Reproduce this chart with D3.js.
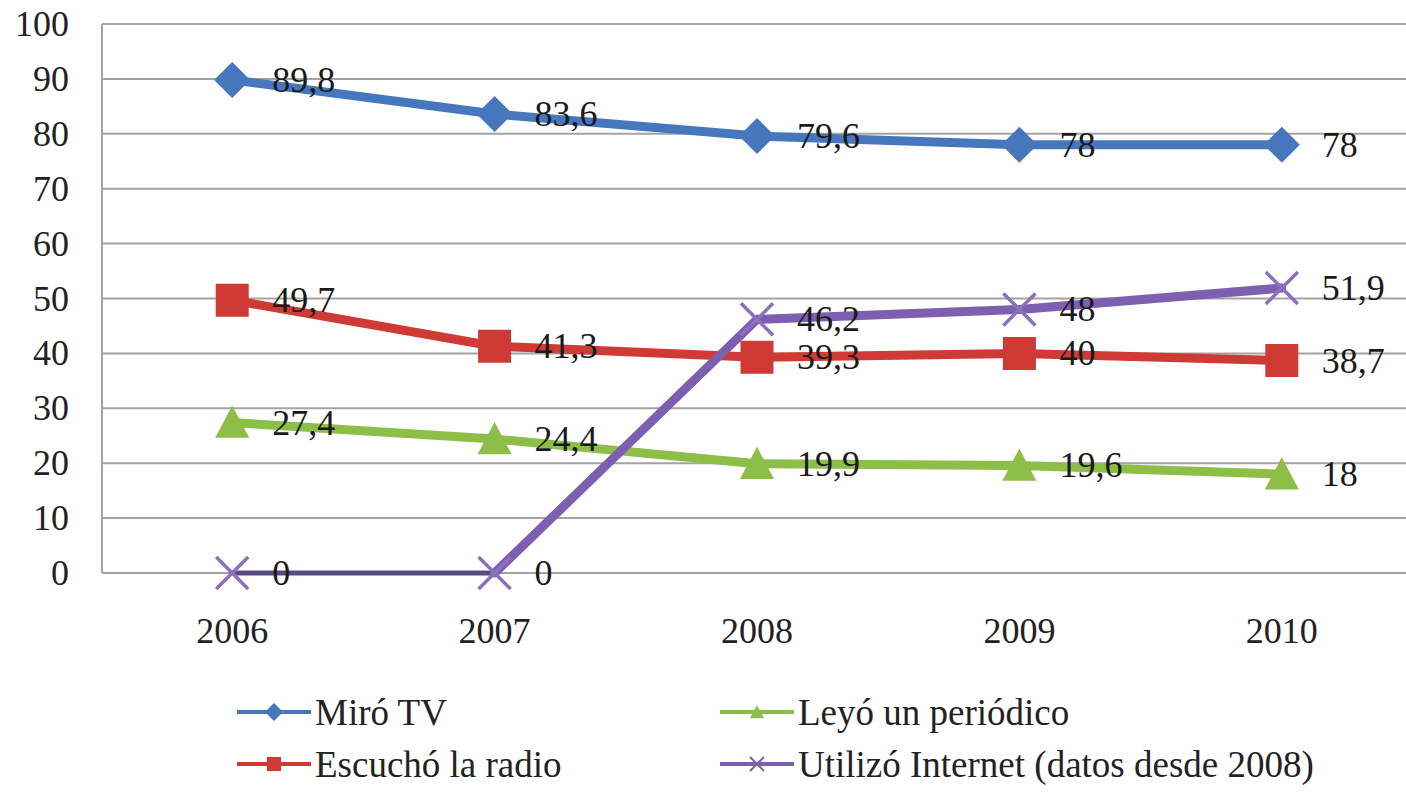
<!DOCTYPE html>
<html><head><meta charset="utf-8">
<script src="https://cdn.jsdelivr.net/npm/d3@7"></script>
<style>html,body{margin:0;padding:0;background:#fff;overflow:hidden}</style>
</head><body>
<svg id="c" width="1406" height="792"></svg>
<script>
const years = ["2006","2007","2008","2009","2010"];
const tv = [89.8, 83.6, 79.6, 78, 78];
const radio = [49.7, 41.3, 39.3, 40, 38.7];
const periodico = [27.4, 24.4, 19.9, 19.6, 18];
const internet = [0, 0, 46.2, 48, 51.9];
const yTicks = [0,10,20,30,40,50,60,70,80,90,100];
const seriesNames = ["Miró TV","Escuchó la radio","Leyó un periódico","Utilizó Internet (datos desde 2008)"];
const seriesColors = ["#4677bd","#d03a35","#8dbf48","#7d5fb0"];
const seriesMarkers = ["diamond","square","triangle","x"];

const series = [tv, radio, periodico, internet].map((vals,i)=>({name:seriesNames[i], color:seriesColors[i], marker:seriesMarkers[i], values:vals}));

const svg = d3.select("#c");
const FONT = "Liberation Serif";
const x = d3.scaleBand().domain(years).range([101, 1413]);
const cx = d => x(d) + x.bandwidth()/2;
const y = d3.scaleLinear().domain([0,100]).range([573, 24]);

// gridlines
svg.append("g").selectAll("line").data(yTicks).join("line")
  .attr("x1", 102).attr("x2", 1406)
  .attr("y1", d=>y(d)).attr("y2", d=>y(d))
  .attr("stroke", "#a3a3a3").attr("stroke-width", 2);
svg.append("line").attr("x1",102).attr("x2",102).attr("y1",y(100)).attr("y2",y(0))
  .attr("stroke","#a3a3a3").attr("stroke-width",2);

// y axis labels
svg.append("g").selectAll("text").data(yTicks).join("text")
  .attr("x", 69).attr("y", d=>y(d)+12)
  .attr("text-anchor","end").style("font-family",FONT).style("font-size","36px").attr("fill","#222")
  .text(d=>d);
// x axis labels
svg.append("g").selectAll("text").data(years).join("text")
  .attr("x", d=>cx(d)).attr("y", 643)
  .attr("text-anchor","middle").style("font-family",FONT).style("font-size","36px").attr("fill","#222")
  .text(d=>d);

function markerPath(type, s){
  if(type==="diamond") return `M0,${-s}L${s},0L0,${s}L${-s},0Z`;
  if(type==="square") return `M${-s},${-s}H${s}V${s}H${-s}Z`;
  if(type==="triangle") return `M0,${-s}L${s},${s*0.9}L${-s},${s*0.9}Z`;
  return `M${-s},${-s}L${s},${s}M${s},${-s}L${-s},${s}`;
}
const mSize = {diamond:18, square:16.5, triangle:17, x:16};

series.forEach(s=>{
  const pts = s.values.map((v,i)=>({year:years[i], v}));
  const g = svg.append("g");
  const segs = d3.pairs(pts);
  g.selectAll("line.seg").data(segs).join("line")
    .attr("x1", d=>cx(d[0].year)).attr("y1", d=>y(d[0].v))
    .attr("x2", d=>cx(d[1].year)).attr("y2", d=>y(d[1].v))
    .attr("stroke", d=> (d[0].v===0 && d[1].v===0) ? "#5a4a80" : s.color)
    .attr("stroke-width", d=> (d[0].v===0 && d[1].v===0) ? 5 : 9)
    .attr("stroke-linecap","round");
  g.selectAll("path.m").data(pts).join("path")
    .attr("transform", d=>`translate(${cx(d.year)},${y(d.v)})`)
    .attr("d", markerPath(s.marker, mSize[s.marker]))
    .attr("fill", s.marker==="x" ? "none" : s.color)
    .attr("stroke", s.marker==="x" ? "#8a70bd" : "none")
    .attr("stroke-width", 3.5);
});
// data labels
series.forEach(s=>{
  svg.append("g").selectAll("text").data(s.values.map((v,i)=>({year:years[i], v}))).join("text")
    .attr("x", d=>cx(d.year)+40).attr("y", d=>y(d.v)+12)
    .style("font-family",FONT).style("font-size","36px").attr("fill","#1a1a1a")
    .text(d=>String(d.v).replace(".", ","));
});

// legend
const legPos = [[237,712],[237,764],[720,712],[720,764]];
series.forEach((s,i)=>{
  const [lx, ly] = legPos[i];
  const g = svg.append("g").attr("transform",`translate(${lx},${ly})`);
  g.append("line").attr("x1",0).attr("x2",74).attr("y1",0).attr("y2",0)
    .attr("stroke", s.color).attr("stroke-width",4);
  g.append("path").attr("transform","translate(37,0)")
    .attr("d", markerPath(s.marker, s.marker==="diamond"?9:7))
    .attr("fill", s.marker==="x" ? "none" : s.color)
    .attr("stroke", s.marker==="x" ? s.color : "none").attr("stroke-width",2);
  g.append("text").attr("x",78).attr("y",13)
    .style("font-family",FONT).style("font-size","37px").attr("fill","#222").text(s.name);
});
</script>
</body></html>
